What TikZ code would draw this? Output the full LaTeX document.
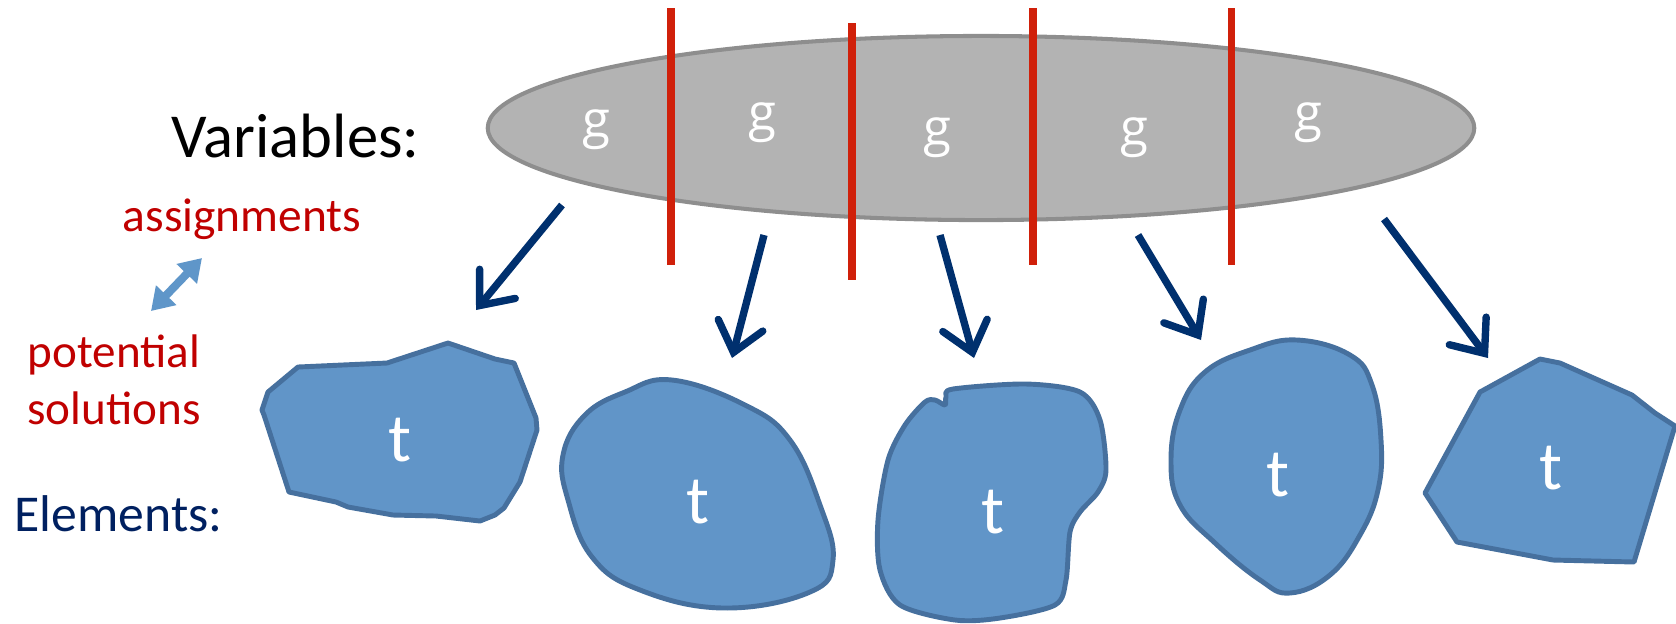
\documentclass[tikz,border=0pt]{standalone}
\usepackage{fontspec}
\setmainfont{Carlito}
\newfontfamily\glyphfont{Open Sans}
\definecolor{vmRed}{HTML}{C00000}
\definecolor{vmNavy}{HTML}{002060}
\definecolor{vmArrow}{HTML}{00306E}
\definecolor{vmCut}{HTML}{D0200A}
\definecolor{vmGray}{HTML}{B3B3B3}
\definecolor{vmGrayEdge}{HTML}{8E8E8E}
\definecolor{vmBlob}{HTML}{6195C8}
\definecolor{vmBlobEdge}{HTML}{46709E}
\definecolor{vmLight}{HTML}{5F96C9}
\usetikzlibrary{arrows.meta,shapes.geometric}

\begin{document}
\begin{tikzpicture}[x=0.01cm, y=-0.01cm,
  blob/.style={fill=vmBlob, draw=vmBlobEdge, line width=1.4pt, line join=round},
  cut/.style={vmCut, line width=2pt},
  maps/.style={vmArrow, line width=2.1pt, -{Straight Barb[length=2.8mm, width=4.6mm, line cap=round]}},
  gvar/.style={font=\glyphfont\fontsize{14.5}{17}\selectfont, text=white, inner sep=0pt},
  telem/.style={font=\fontsize{19.5}{23}\selectfont, text=white, inner sep=0pt}]
  \useasboundingbox (0,0) rectangle (1676,623);

  % labels on the left
  \node[anchor=base west, inner sep=0pt, font=\fontsize{17.8}{21}\selectfont] (lvars) at (171,157) {Variables:};
  \node[anchor=base west, inner sep=0pt, text=vmRed, font=\fontsize{13.5}{16}\selectfont] (lassign) at (122,231) {assignments};
  \node[anchor=base, inner sep=0pt, align=center, text=vmRed, font=\fontsize{13.4}{16}\selectfont] (lsol) at (114,424) {potential\\solutions};
  \node[anchor=base west, inner sep=0pt, text=vmNavy, font=\fontsize{14.7}{18}\selectfont] (lelem) at (14,531) {Elements:};
  \coordinate (swapA) at (202,258);
  \coordinate (swapB) at (151,311);
  \draw[vmLight, line width=2.3pt, {Triangle[length=2.2mm, width=2.7mm]}-{Triangle[length=2.2mm, width=2.7mm]}] (swapB) -- (swapA);

  % the variable set, cut into parts
  \node[ellipse, draw=vmGrayEdge, fill=vmGray, line width=1.15pt, minimum width=9.86cm, minimum height=1.84cm, inner sep=0pt] (vars) at (981,128) {};
  \node[gvar] (g1) at (596,130) {g};
  \node[gvar] (g2) at (762,123) {g};
  \node[gvar] (g3) at (937,138) {g};
  \node[gvar] (g4) at (1134,138) {g};
  \node[gvar] (g5) at (1308,123) {g};
  \draw[cut] (671,8) -- (671,265);
  \draw[cut] (852,23) -- (852,280);
  \draw[cut] (1033,8) -- (1033,265);
  \draw[cut] (1231,8) -- (1231,265);

  % elements
  \draw[blob] (298,367) -- (387,363) -- (448,343) -- (495,359) -- (514,363) -- (536,418) -- (537,430)
    -- (520,482) -- (504,508) -- (495,515) -- (480,521) -- (436,516) -- (393,515) -- (348,507)
    -- (336,502) -- (289,492) -- (264,415) -- (262,410) -- (268,392) -- cycle;
  \draw[blob] plot[smooth cycle, tension=0.7] coordinates {(672,380) (745,405) (790,440) (820,505)
    (833,560) (810,592) (724,608) (640,590) (592,557) (568,500) (563,455) (585,415) (625,392)};
  \draw[blob] plot[smooth cycle, tension=0.5] coordinates {(953,389) (1026,384) (1080,392) (1100,420)
    (1106,470) (1098,492) (1080,512) (1070,532) (1066,580) (1055,605) (1000,618) (955,620) (900,605)
    (880,570) (878,520) (888,460) (905,425) (925,402) (935,400) (945,405) (946,397)};
  \draw[blob] plot[smooth cycle, tension=0.7] coordinates {(1297,340) (1350,355) (1372,385) (1381,440)
    (1378,490) (1360,535) (1330,575) (1290,593) (1260,580) (1215,543) (1180,505) (1171,460)
    (1180,410) (1205,372) (1250,350)};
  \draw[blob] (1480,392) -- (1540,359) -- (1560,363) -- (1632,395) -- (1655,413) -- (1675,426)
    -- (1634,562) -- (1553,560) -- (1457,542) -- (1425,493) -- cycle;
  \node[telem] (t1) at (400,440) {t};
  \node[telem] (t2) at (698,502) {t};
  \node[telem] (t3) at (993,512) {t};
  \node[telem] (t4) at (1278,475) {t};
  \node[telem] (t5) at (1551,468) {t};

  % mapping arrows
  \coordinate (m1s) at (562,205);  \coordinate (m1e) at (476,310);
  \coordinate (m2s) at (764,235);  \coordinate (m2e) at (732,358);
  \coordinate (m3s) at (940,235);  \coordinate (m3e) at (974,358);
  \coordinate (m4s) at (1138,235); \coordinate (m4e) at (1201,340);
  \coordinate (m5s) at (1384,219); \coordinate (m5e) at (1488,358);
  \draw[maps] (m1s) -- (m1e);
  \draw[maps] (m2s) -- (m2e);
  \draw[maps] (m3s) -- (m3e);
  \draw[maps] (m4s) -- (m4e);
  \draw[maps] (m5s) -- (m5e);
\end{tikzpicture}
\end{document}
